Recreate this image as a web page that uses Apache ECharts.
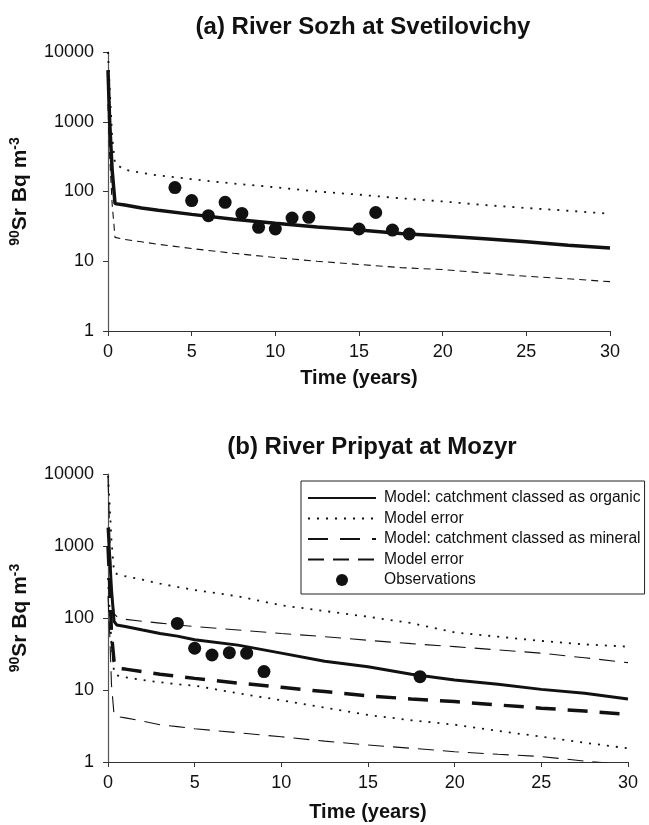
<!DOCTYPE html>
<html>
<head>
<meta charset="utf-8">
<script src="https://cdn.jsdelivr.net/npm/echarts@6/dist/echarts.min.js"></script>
<style>
html,body{margin:0;padding:0;background:#fff;}
#c{width:649px;height:825px;}
</style>
</head>
<body>
<div id="c"></div>
<script>
// ---------- (a) River Sozh at Svetilovichy ----------
var timeA = [0, 0.1, 0.25, 0.42, 1, 2, 3, 5, 7.5, 10, 12.5, 15, 17.5, 20, 22.5, 25, 27.5, 30];
var modelA = [5500, 1000, 200, 67, 64, 58, 54, 47, 40, 35, 31, 28, 25, 23, 21, 19, 17, 15.5];
var upperA = [10000, 3000, 600, 250, 205, 185, 170, 150, 130, 115, 100, 90, 80, 72, 64, 58, 53, 48];
var lowerA = [1800, 320, 65, 22, 20.5, 19, 17.5, 15.2, 13, 11.3, 10, 9, 8.1, 7.6, 6.8, 6.1, 5.6, 5.1];
var obsTimeA = [4, 5, 6, 7, 8, 9, 10, 11, 12, 15, 16, 17, 18];
var obsValA = [114, 74, 45, 70, 48.5, 30.6, 29, 41.7, 42.6, 29, 50, 28, 24.6];

// ---------- (b) River Pripyat at Mozyr ----------
var timeB = [0, 0.1, 0.2, 0.35, 0.5, 1, 2, 3, 4, 5, 7.5, 10, 12.5, 15, 17.5, 20, 22.5, 25, 27.5, 30];
var organicB = [1800, 700, 250, 90, 80, 76, 68, 61, 56, 50, 42, 32.5, 25, 21, 16.5, 13.8, 12, 10.2, 9, 7.5];
var organicUpperB = [9500, 3500, 1200, 430, 410, 380, 340, 300, 270, 245, 200, 150, 125, 104, 85, 63, 55, 48, 43, 40];
var organicLowerB = [360, 120, 45, 17.5, 16, 15, 13.8, 12.8, 12, 11.5, 9, 7.2, 5.7, 4.5, 3.8, 3.3, 2.7, 2.25, 1.85, 1.55];
var mineralB = [1000, 300, 60, 25, 20, 19.5, 18, 16.5, 15.5, 14.5, 12.5, 10.9, 9.5, 8.3, 7.5, 6.9, 6.2, 5.6, 5.1, 4.6];
var mineralUpperB = [9000, 1500, 300, 115, 105, 96, 90, 85, 80, 76, 68, 61, 55, 49, 44, 40, 36, 32.5, 28, 24];
var mineralLowerB = [200, 60, 12, 4.5, 4.3, 4.1, 3.7, 3.3, 3.1, 2.9, 2.55, 2.24, 1.95, 1.72, 1.55, 1.39, 1.28, 1.19, 1.03, 0.92];
var obsTimeB = [4, 5, 6, 7, 8, 9, 18];
var obsValB = [84, 38, 30.6, 33, 32.5, 18, 15.3];

// ---------- labels ----------
var titleA = '(a) River Sozh at Svetilovichy';
var titleB = '(b) River Pripyat at Mozyr';
var xTitle = 'Time (years)';
var legendNames = ['Model: catchment classed as organic', 'Model error', 'Model: catchment classed as mineral', 'Model error ', 'Observations'];

function zip(t, v) { return t.map(function (x, i) { return [x, v[i]]; }); }

var FONT = 'Liberation Sans, Arial, sans-serif';
var chart = echarts.init(document.getElementById('c'), null, {renderer: 'canvas'});

function xAxisCfg(idx) {
  return {
    gridIndex: idx, type: 'value', min: 0, max: 30, interval: 5,
    name: xTitle, nameLocation: 'middle', nameGap: idx === 0 ? 37 : 40,
    nameTextStyle: {fontFamily: FONT, fontSize: 20, fontWeight: 'bold', color: '#111'},
    axisLine: {show: true, onZero: false, lineStyle: {color: '#333', width: 1.2}},
    axisTick: {show: true, inside: false, length: 5, lineStyle: {color: '#333'}},
    axisLabel: {fontFamily: FONT, fontSize: 18, color: '#111', margin: 12},
    splitLine: {show: false}
  };
}
function yAxisCfg(idx) {
  return {
    gridIndex: idx, type: 'log', logBase: 10, min: 1, max: 10000,
    name: '{s|90}{b|Sr Bq m}{s|-3}', nameLocation: 'middle', nameRotate: 90, nameGap: 76,
    nameTextStyle: {
      fontFamily: FONT, color: '#111',
      rich: {
        s: {fontFamily: FONT, fontSize: 14, fontWeight: 'bold', color: '#111', padding: [0, 0, 10, 0]},
        b: {fontFamily: FONT, fontSize: 21, fontWeight: 'bold', color: '#111'}
      }
    },
    axisLine: {show: true, lineStyle: {color: '#555', width: 1.2}},
    axisTick: {show: true, inside: false, length: 5, lineStyle: {color: '#333'}},
    axisLabel: {fontFamily: FONT, fontSize: 18, color: '#111', margin: 14,
      formatter: function (v) { return String(Math.round(v)); }},
    splitLine: {show: false}
  };
}

var hideSym = {opacity: 0};
var dotted = [2, 7];
var option = {
  backgroundColor: '#fff',
  animation: false,
  title: [
    {text: titleA, left: 358, top: 10, textAlign: 'center',
      textStyle: {fontFamily: FONT, fontSize: 24, fontWeight: 'bold', color: '#111'}},
    {text: titleB, left: 367, top: 430, textAlign: 'center',
      textStyle: {fontFamily: FONT, fontSize: 24, fontWeight: 'bold', color: '#111'}}
  ],
  grid: [
    {left: 107, right: 39, top: 52, height: 279},
    {left: 107, right: 21, top: 474, height: 288}
  ],
  xAxis: [xAxisCfg(0), xAxisCfg(1)],
  yAxis: [yAxisCfg(0), yAxisCfg(1)],
  legend: {
    orient: 'vertical', left: 301, top: 481,
    data: [
      {name: legendNames[0], itemStyle: hideSym},
      {name: legendNames[1], itemStyle: hideSym},
      {name: legendNames[2], itemStyle: hideSym},
      {name: legendNames[3], itemStyle: hideSym},
      {name: legendNames[4]}
    ],
    itemWidth: 68, itemHeight: 12, itemGap: 4.5,
    padding: [9, 4, 6, 6],
    borderColor: '#222', borderWidth: 1, backgroundColor: '#fff',
    textStyle: {fontFamily: FONT, fontSize: 15.6, color: '#111', lineHeight: 16, padding: [0, 0, 0, 3]},
    selectedMode: false
  },
  series: [
    {name: 'a-model', type: 'line', xAxisIndex: 0, yAxisIndex: 0, data: zip(timeA, modelA), symbol: 'none',
      itemStyle: {color: '#111'}, lineStyle: {color: '#111', width: 3.5}},
    {name: 'a-upper', type: 'line', xAxisIndex: 0, yAxisIndex: 0, data: zip(timeA, upperA), symbol: 'none',
      itemStyle: {color: '#111'}, lineStyle: {color: '#111', width: 1.8, type: dotted}},
    {name: 'a-lower', type: 'line', xAxisIndex: 0, yAxisIndex: 0, data: zip(timeA, lowerA), symbol: 'none',
      itemStyle: {color: '#111'}, lineStyle: {color: '#111', width: 1.1, type: [7, 5]}},
    {name: 'a-obs', type: 'scatter', xAxisIndex: 0, yAxisIndex: 0, data: zip(obsTimeA, obsValA), symbol: 'circle', symbolSize: 13,
      itemStyle: {color: '#111', opacity: 1}, z: 6},

    {name: legendNames[0], type: 'line', xAxisIndex: 1, yAxisIndex: 1, data: zip(timeB, organicB), symbol: 'none',
      itemStyle: {color: '#111'}, lineStyle: {color: '#111', width: 3}, z: 5},
    {name: legendNames[1], type: 'line', xAxisIndex: 1, yAxisIndex: 1, data: zip(timeB, organicUpperB), symbol: 'none',
      itemStyle: {color: '#111'}, lineStyle: {color: '#111', width: 1.8, type: dotted}},
    {name: legendNames[1], type: 'line', xAxisIndex: 1, yAxisIndex: 1, data: zip(timeB, organicLowerB), symbol: 'none',
      itemStyle: {color: '#111'}, lineStyle: {color: '#111', width: 1.8, type: dotted}},
    {name: legendNames[2], type: 'line', xAxisIndex: 1, yAxisIndex: 1, data: zip(timeB, mineralB), symbol: 'none',
      itemStyle: {color: '#111'}, lineStyle: {color: '#111', width: 3.5, type: [20, 12]}},
    {name: legendNames[3], type: 'line', xAxisIndex: 1, yAxisIndex: 1, data: zip(timeB, mineralUpperB), symbol: 'none',
      itemStyle: {color: '#111'}, lineStyle: {color: '#111', width: 1.1, type: [16, 9]}},
    {name: legendNames[3], type: 'line', xAxisIndex: 1, yAxisIndex: 1, data: zip(timeB, mineralLowerB), symbol: 'none',
      itemStyle: {color: '#111'}, lineStyle: {color: '#111', width: 1.1, type: [16, 9]}},
    {name: legendNames[4], type: 'scatter', xAxisIndex: 1, yAxisIndex: 1, data: zip(obsTimeB, obsValB), symbol: 'circle', symbolSize: 13,
      itemStyle: {color: '#111', opacity: 1}, z: 6}
  ]
};
chart.setOption(option);
</script>
</body>
</html>
